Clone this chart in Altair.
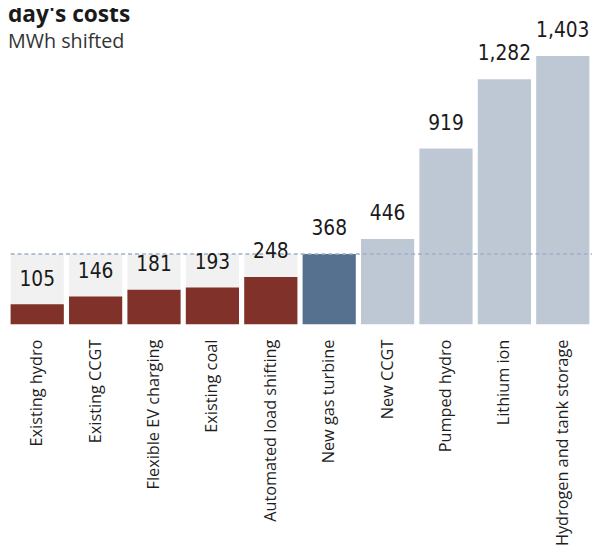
import altair as alt
import pandas as pd

categories = [
    "Existing hydro", "Existing CCGT", "Flexible EV charging", "Existing coal",
    "Automated load shifting", "New gas turbine", "New CCGT", "Pumped hydro",
    "Lithium ion", "Hydrogen and tank storage",
]
costs = [105, 146, 181, 193, 248, 368, 446, 919, 1282, 1403]
groups = ["Existing/flexible"] * 5 + ["Benchmark"] + ["New build"] * 4
benchmark = 368
title_text = "day's costs"
subtitle_text = "MWh shifted"

df = pd.DataFrame({"category": categories, "cost": costs, "group": groups})
bg = df[df["group"] == "Existing/flexible"].assign(bg=benchmark)

yscale = alt.Scale(domain=[0, 1635], nice=False, zero=True)
x = alt.X(
    "category:N", sort=categories,
    scale=alt.Scale(paddingInner=0.089, paddingOuter=0.045),
    axis=alt.Axis(
        title=None, labelAngle=-90, labelAlign="right", labelBaseline="middle",
        labelPadding=15, ticks=False, tickSize=0, domain=False,
        labelFont="Open Sans", labelFontSize=16.5, labelColor="#1e1e1e", labelLimit=400,
    ),
)

bg_layer = alt.Chart(bg).mark_bar(color="#f1f1f1").encode(
    x=x, y=alt.Y("bg:Q", scale=yscale, axis=None)
)

bars = alt.Chart(df).mark_bar().encode(
    x=x,
    y=alt.Y("cost:Q", scale=yscale, axis=None),
    color=alt.Color(
        "group:N",
        scale=alt.Scale(domain=["Existing/flexible", "Benchmark", "New build"],
                        range=["#80322a", "#56718f", "#bec8d4"]),
        legend=None,
    ),
)

rule = alt.Chart(pd.DataFrame({"b": [benchmark]})).mark_rule(
    color="#9db0c8", strokeDash=[4, 3], strokeWidth=1.5
).encode(y=alt.Y("b:Q", scale=yscale, axis=None), x=alt.value(2.7), x2=alt.value(592))

labels = alt.Chart(df).mark_text(
    dy=-19, baseline="alphabetic", font="DejaVu Sans Condensed, Roboto", fontWeight=300,
    fontSize=21, color="#1a1a1a"
).encode(x=x, y=alt.Y("cost:Q", scale=yscale, axis=None), text=alt.Text("cost:Q", format=","))

title = alt.Chart(pd.DataFrame({"t": [title_text]})).mark_text(
    align="left", baseline="alphabetic", font="Open Sans", fontWeight="bold",
    fontSize=23, color="#1a1a1a"
).encode(text="t:N", x=alt.value(0), y=alt.value(10))

subtitle = alt.Chart(pd.DataFrame({"t": [subtitle_text]})).mark_text(
    align="left", baseline="alphabetic", font="Open Sans", fontSize=20, color="#333333"
).encode(text="t:N", x=alt.value(0), y=alt.value(37))

chart = alt.layer(bg_layer, bars, rule, labels, title, subtitle).properties(
    width=592, height=317,
    padding={"left": 0, "top": 0, "right": 0, "bottom": 222},
    autosize=alt.AutoSizeParams(type="none"),
).configure_view(stroke=None)

chart.save("out.html", embed_options={"renderer": "svg", "actions": False})
